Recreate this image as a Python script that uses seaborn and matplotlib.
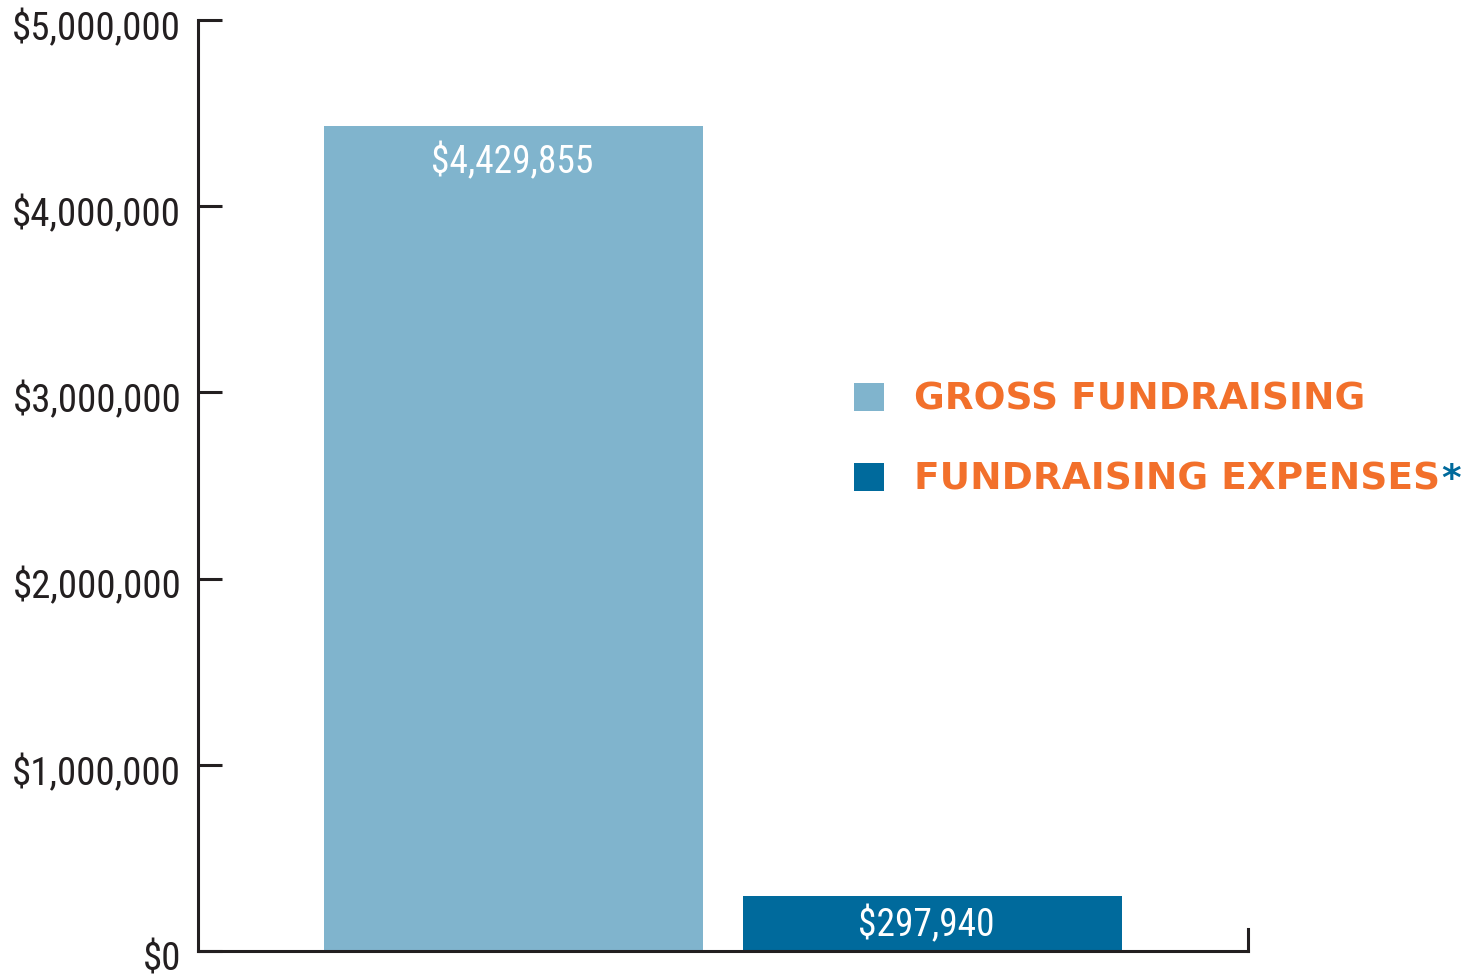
import matplotlib
matplotlib.use("Agg")
import matplotlib.pyplot as plt
import matplotlib.transforms as mtransforms
from matplotlib.ticker import FuncFormatter
import seaborn as sns
import pandas as pd

categories = ["GROSS FUNDRAISING", "FUNDRAISING EXPENSES"]
values = [4429855, 297940]
bar_labels = ["$4,429,855", "$297,940"]
colors = ["#80b4cd", "#006a9c"]
yticks = [0, 1000000, 2000000, 3000000, 4000000, 5000000]

sns.set_theme(style="white")
plt.rcParams["font.family"] = ["Roboto Condensed", "Roboto"]

df = pd.DataFrame({"cat": categories, "value": values})

fig = plt.figure(figsize=(14.66, 9.74), dpi=100)
ax = fig.add_axes([198 / 1466, 23 / 974, 1050 / 1466, 931 / 974])

sns.barplot(data=df, x="cat", y="value", hue="cat", palette=colors,
            width=0.9035, saturation=1, ax=ax, legend=True, linewidth=0)

dark = "#231f20"
ax.set_xlim(-0.752, 1.751)
ax.set_ylim(0, 5000000)
ax.set_yticks(yticks)
ax.yaxis.set_major_formatter(FuncFormatter(lambda v, p: f"${v:,.0f}"))
ax.set_xticks([])
ax.set_xlabel("")
ax.set_ylabel("")
for s in ["top", "right"]:
    ax.spines[s].set_visible(False)
for s in ["left", "bottom"]:
    ax.spines[s].set_color(dark)
    ax.spines[s].set_linewidth(2.2)
ax.tick_params(axis="y", direction="in", length=17, width=2.2, color=dark,
               labelsize=28, labelcolor="#231f20", pad=12, left=True)
offset = mtransforms.ScaledTranslation(0, -5 / 100, fig.dpi_scale_trans)
for lab in ax.get_yticklabels():
    lab.set_transform(lab.get_transform() + offset)

# short end tick on the right of the x axis
ax.plot([1, 1], [0, 0.024], transform=ax.transAxes, color=dark, lw=2.2,
        solid_capstyle="projecting", clip_on=False)

# value labels
ax.annotate(bar_labels[0], xy=(0, values[0]), xytext=(-1, -26),
            textcoords="offset points", ha="center", va="center",
            color="white", fontsize=27)
ax.annotate(bar_labels[1], xy=(1, values[1] / 2), xytext=(-5, -1),
            textcoords="offset points", ha="center", va="center",
            color="white", fontsize=27)

handles, labels = ax.get_legend_handles_labels()
if ax.get_legend():
    ax.get_legend().remove()
leg = fig.legend(handles, labels, loc="upper left",
                 bbox_to_anchor=(854 / 1466, 1 - 382 / 974),
                 frameon=False, borderpad=0, borderaxespad=0,
                 handlelength=0.8, handleheight=0.8, handletextpad=0.8,
                 labelspacing=1.17,
                 prop={"family": "DejaVu Sans", "weight": "bold", "size": 27})
for t in leg.get_texts():
    t.set_color("#f2702b")

fig.canvas.draw()
bb = leg.get_texts()[1].get_window_extent()
fig.text((bb.x1 + 1) / fig.bbox.width, (bb.y0 + bb.y1) / 2 / fig.bbox.height, "*",
         ha="left", va="center", color="#006a9c", fontsize=27,
         fontweight="bold", family="DejaVu Sans")

fig.savefig("out.png", dpi=100)
